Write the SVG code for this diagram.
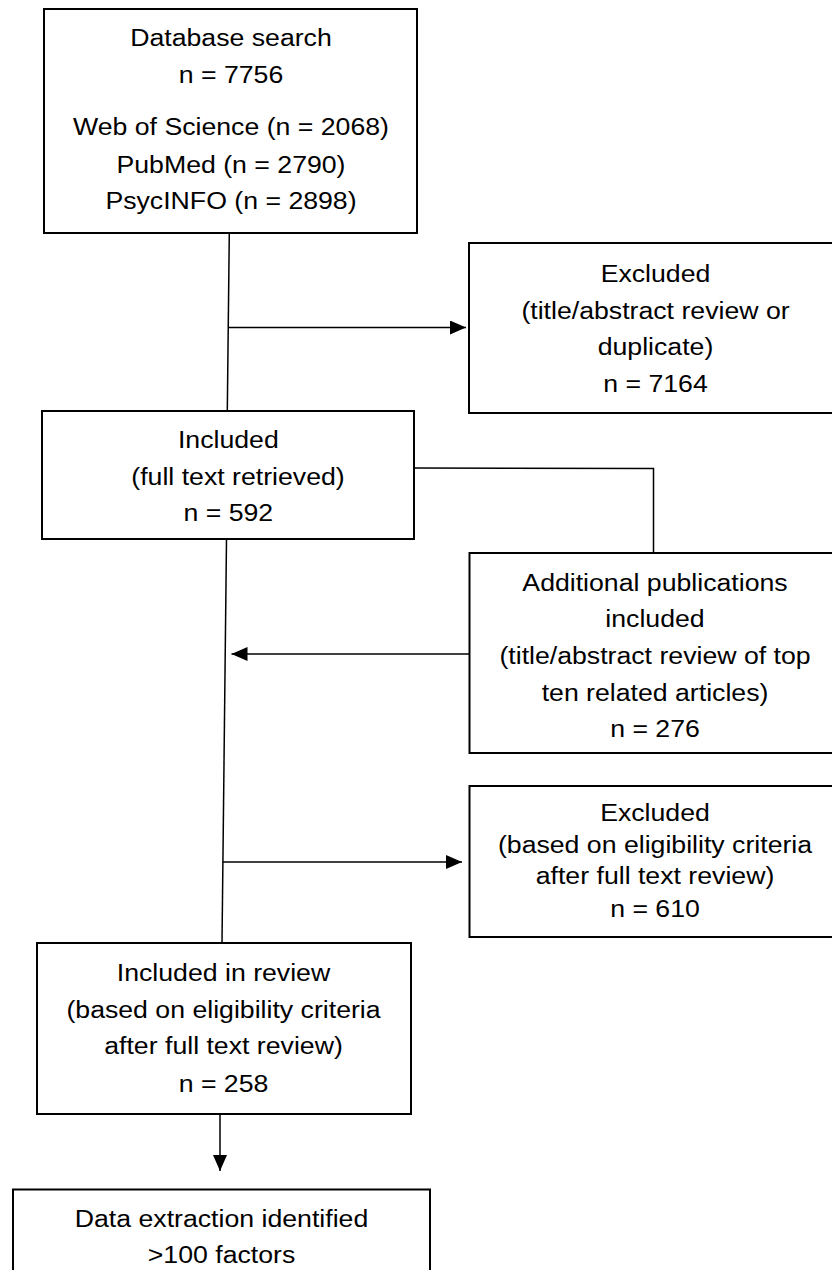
<svg xmlns="http://www.w3.org/2000/svg" width="832" height="1270" viewBox="0 0 832 1270">
<style>
.box{fill:#fff;stroke:#000;stroke-width:2}
.ln{fill:none;stroke:#000;stroke-width:1.5}
text{font-family:"Liberation Sans",Arial,sans-serif;font-size:23px;fill:#000;text-anchor:middle}
</style>
<defs>
<marker id="ah" markerUnits="userSpaceOnUse" markerWidth="17" markerHeight="15" refX="16" refY="7" orient="auto">
<path d="M0,0 L16,7 L0,14 z" fill="#000"/>
</marker>
</defs>
<rect width="832" height="1270" fill="#fff"/>
<g id="connectors">
<polyline class="ln" points="229.3,233 227.3,411"/>
<line class="ln" x1="228.5" y1="327.5" x2="466" y2="327.5" marker-end="url(#ah)"/>
<polyline class="ln" points="226.5,539 222,943"/>
<polyline class="ln" points="414,468 653.5,468.5 653.5,553"/>
<line class="ln" x1="469" y1="654" x2="231.5" y2="654" marker-end="url(#ah)"/>
<line class="ln" x1="223" y1="862" x2="462" y2="862" marker-end="url(#ah)"/>
<line class="ln" x1="220" y1="1114" x2="220" y2="1171" marker-end="url(#ah)"/>
</g>
<g id="database">
<rect class="box" x="44" y="9" width="373" height="224"/>
<text transform="translate(231,46) scale(1.16,1)">Database search</text>
<text transform="translate(231,83) scale(1.16,1)">n = 7756</text>
<text transform="translate(231,135) scale(1.16,1)">Web of Science (n = 2068)</text>
<text transform="translate(231,172.5) scale(1.16,1)">PubMed (n = 2790)</text>
<text transform="translate(231,209) scale(1.16,1)">PsycINFO (n = 2898)</text>
</g>
<g id="excluded1">
<rect class="box" x="469" y="243" width="380" height="170"/>
<text transform="translate(655.5,282.3) scale(1.16,1)">Excluded</text>
<text transform="translate(655.5,318.5) scale(1.16,1)">(title/abstract review or</text>
<text transform="translate(655.5,355) scale(1.16,1)">duplicate)</text>
<text transform="translate(655.5,391.7) scale(1.16,1)">n = 7164</text>
</g>
<g id="included">
<rect class="box" x="42" y="411" width="372" height="128"/>
<text transform="translate(228.3,448.3) scale(1.16,1)">Included</text>
<text transform="translate(238,485) scale(1.16,1)">(full text retrieved)</text>
<text transform="translate(228.3,521) scale(1.16,1)">n = 592</text>
</g>
<g id="additional">
<rect class="box" x="469.5" y="553" width="380" height="200"/>
<text transform="translate(655,590.7) scale(1.16,1)">Additional publications</text>
<text transform="translate(655,627.3) scale(1.16,1)">included</text>
<text transform="translate(655,664) scale(1.16,1)">(title/abstract review of top</text>
<text transform="translate(655,700.7) scale(1.16,1)">ten related articles)</text>
<text transform="translate(655,736.7) scale(1.16,1)">n = 276</text>
</g>
<g id="excluded2">
<rect class="box" x="469.5" y="786" width="380" height="151"/>
<text transform="translate(655,821) scale(1.16,1)">Excluded</text>
<text transform="translate(655,852.7) scale(1.16,1)">(based on eligibility criteria</text>
<text transform="translate(655,884) scale(1.16,1)">after full text review)</text>
<text transform="translate(655,917.3) scale(1.16,1)">n = 610</text>
</g>
<g id="review">
<rect class="box" x="37" y="943" width="374" height="171"/>
<text transform="translate(223.5,981) scale(1.16,1)">Included in review</text>
<text transform="translate(223.5,1017.7) scale(1.16,1)">(based on eligibility criteria</text>
<text transform="translate(223.5,1054.3) scale(1.16,1)">after full text review)</text>
<text transform="translate(223.5,1091.7) scale(1.16,1)">n = 258</text>
</g>
<g id="extraction">
<rect class="box" x="13" y="1189.5" width="417" height="100"/>
<text transform="translate(221.5,1226.7) scale(1.16,1)">Data extraction identified</text>
<text transform="translate(221.5,1263.3) scale(1.16,1)">&gt;100 factors</text>
</g>
</svg>
